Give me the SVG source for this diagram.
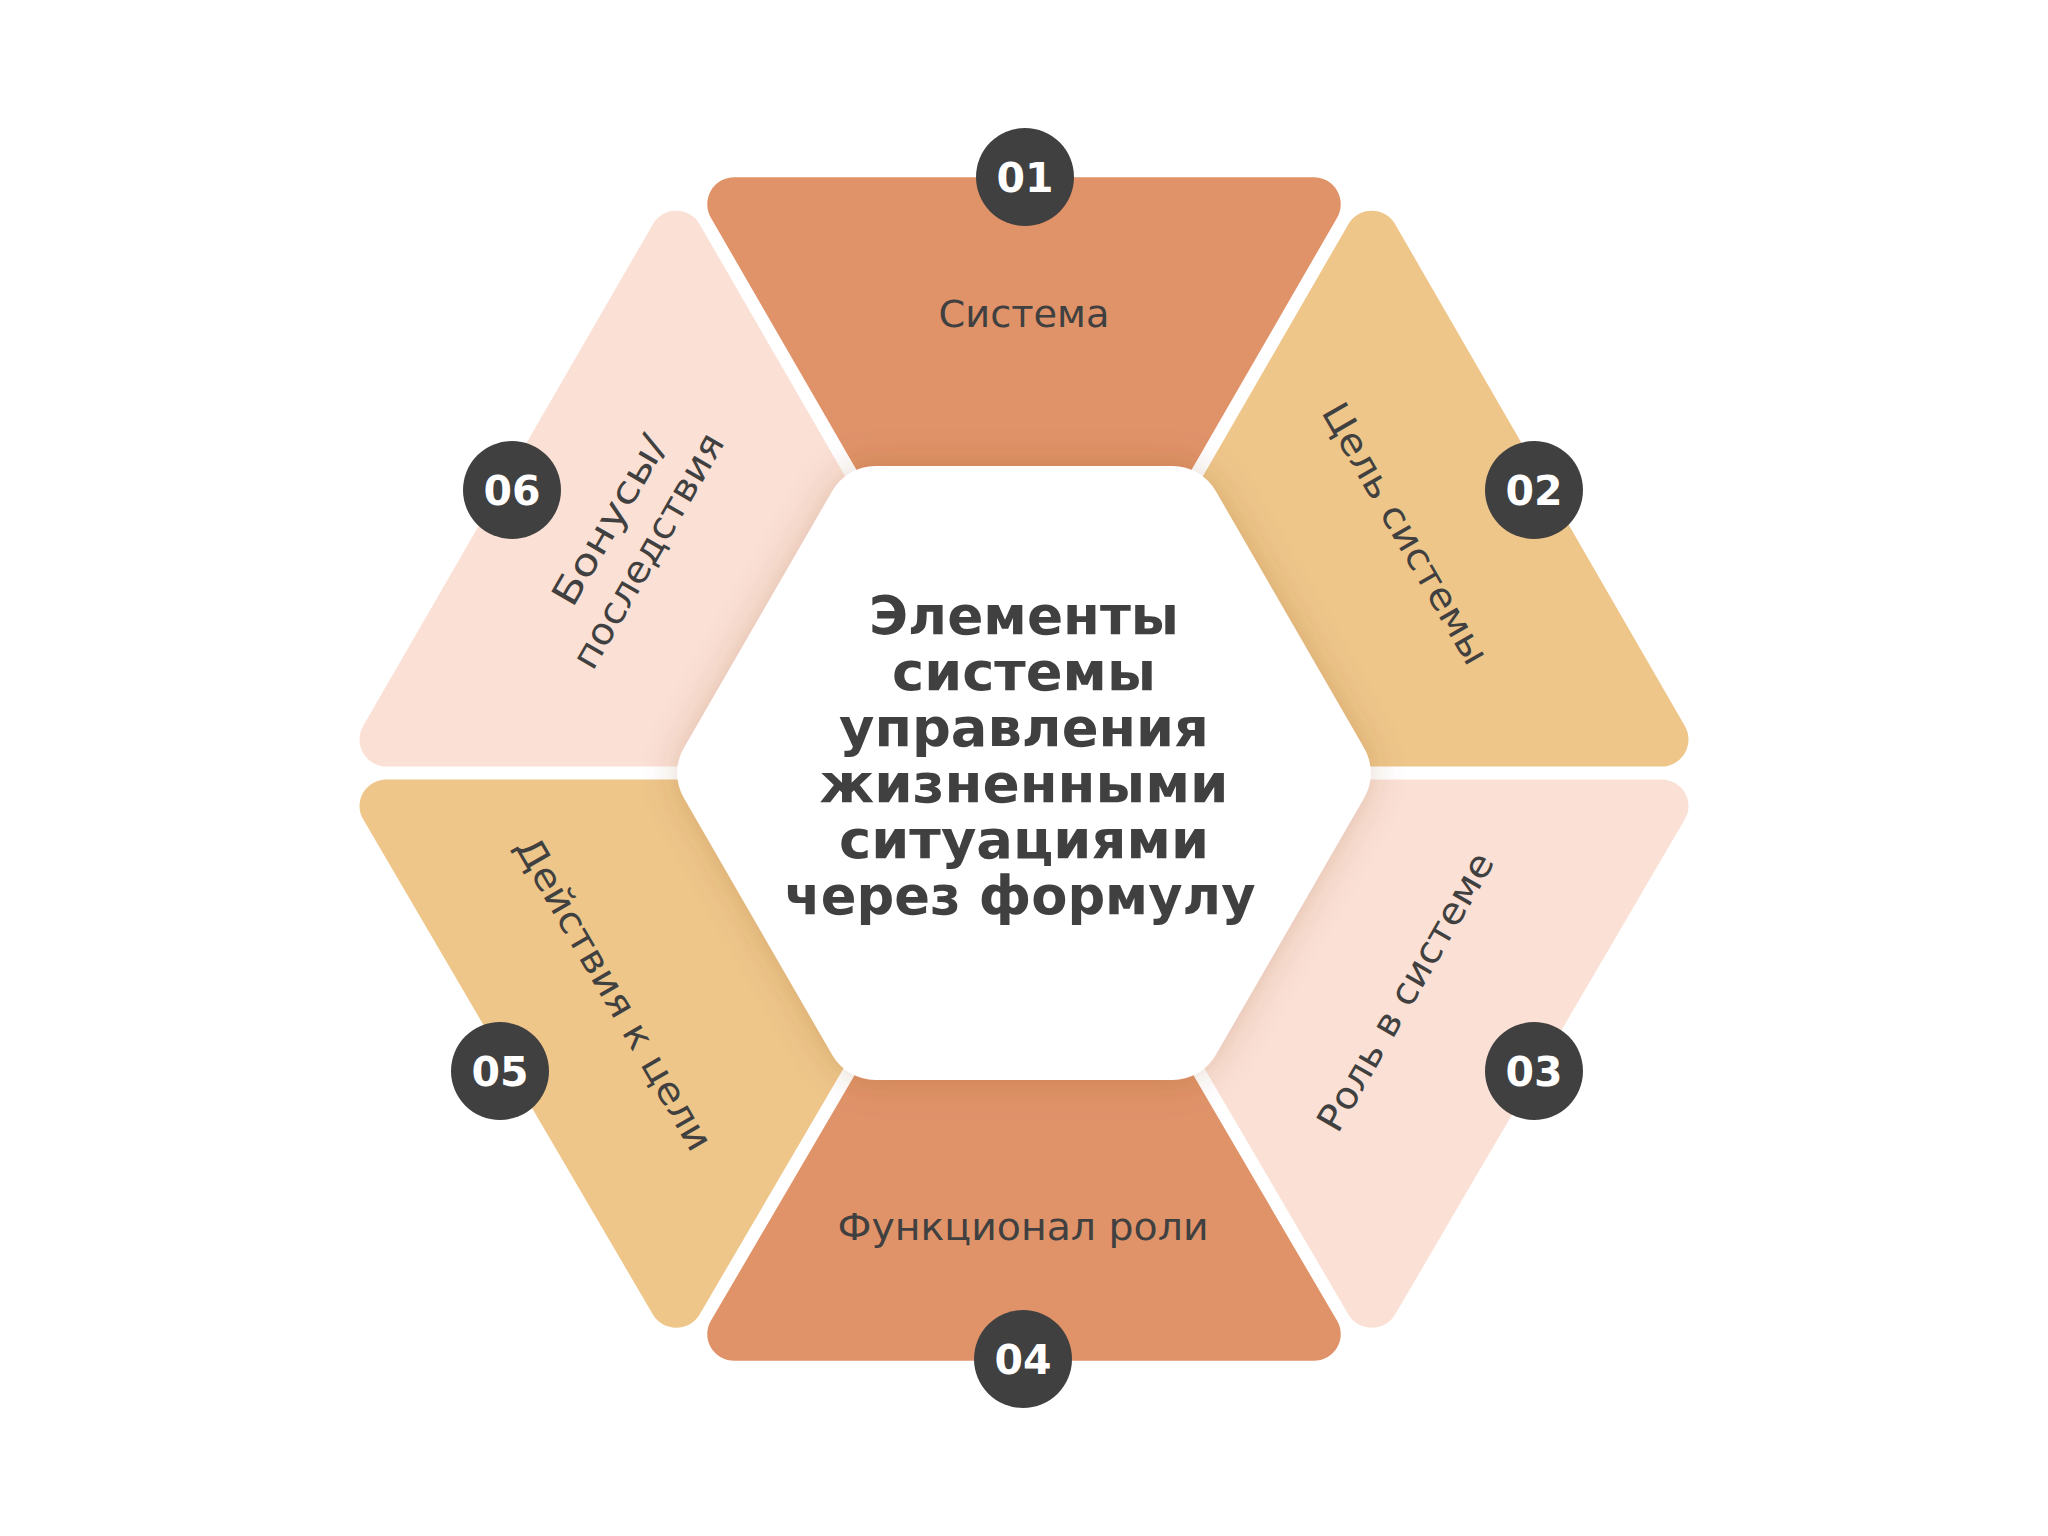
<svg xmlns="http://www.w3.org/2000/svg" width="2048" height="1536" viewBox="0 0 2048 1536">
  <defs>
    <filter id="hexShadow" x="-25%" y="-25%" width="150%" height="150%">
      <feGaussianBlur in="SourceAlpha" stdDeviation="18" result="b"/>
      <feFlood flood-color="#7a3e1e" flood-opacity="0.22"/>
      <feComposite in2="b" operator="in" result="s"/>
      <feMerge>
        <feMergeNode in="s"/>
        <feMergeNode in="SourceGraphic"/>
      </feMerge>
    </filter>
    <style>
      .terra { fill: #E09369; }
      .sand { fill: #EEC68A; }
      .pink { fill: #FBE0D5; }
      .badge { fill: #404040; }
      .num { font-family: "DejaVu Sans", "Liberation Sans", sans-serif; font-weight: bold; font-size: 41px; fill: #FFFFFF; text-anchor: middle; }
      .label { font-family: "DejaVu Sans", "Liberation Sans", sans-serif; font-size: 37px; fill: #404040; text-anchor: middle; }
      .title { font-family: "DejaVu Sans", "Liberation Sans", sans-serif; font-weight: bold; font-size: 53px; fill: #404040; text-anchor: middle; }
    </style>
  </defs>

  <rect width="2048" height="1536" fill="#FFFFFF"/>

  <g id="node-01">
    <path class="terra" d="M 734.27 177.2 L 1313.73 177.2 A 27 27 0 0 1 1337.12 217.7 L 1162.6 520 L 885.4 520 L 710.88 217.7 A 27 27 0 0 1 734.27 177.2 Z"/>
    <text class="label" x="1024" y="327" textLength="171" lengthAdjust="spacingAndGlyphs">Система</text>
    <circle class="badge" cx="1025" cy="177" r="49"/>
    <text class="num" x="1025" y="192">01</text>
  </g>

  <g id="node-02">
    <path class="sand" d="M 1395.13 224.2 L 1684.87 726.0 A 27 27 0 0 1 1661.48 766.5 L 1300 766.5 L 1177.6 520 L 1348.37 224.2 A 27 27 0 0 1 1395.13 224.2 Z"/>
    <text class="label" transform="translate(1394.5 539.8) rotate(60)" x="0" y="0" textLength="295" lengthAdjust="spacingAndGlyphs">Цель системы</text>
    <circle class="badge" cx="1534" cy="490" r="49"/>
    <text class="num" x="1534" y="505">02</text>
  </g>

  <g id="node-03">
    <path class="pink" transform="matrix(1 0 0 -0.9866 0 1535.64)" d="M 1395.13 224.2 L 1684.87 726.0 A 27 27 0 0 1 1661.48 766.5 L 1300 766.5 L 1177.6 520 L 1348.37 224.2 A 27 27 0 0 1 1395.13 224.2 Z"/>
    <text class="label" transform="translate(1416.5 998) rotate(-60)" x="0" y="0" textLength="315" lengthAdjust="spacingAndGlyphs">Роль в системе</text>
    <circle class="badge" cx="1534" cy="1071" r="49"/>
    <text class="num" x="1534" y="1086">03</text>
  </g>

  <g id="node-04">
    <path class="terra" transform="matrix(1 0 0 -0.9866 0 1535.64)" d="M 734.27 177.2 L 1313.73 177.2 A 27 27 0 0 1 1337.12 217.7 L 1162.6 520 L 885.4 520 L 710.88 217.7 A 27 27 0 0 1 734.27 177.2 Z"/>
    <text class="label" x="1023" y="1240" textLength="371" lengthAdjust="spacingAndGlyphs">Функционал роли</text>
    <circle class="badge" cx="1023" cy="1359" r="49"/>
    <text class="num" x="1023" y="1374">04</text>
  </g>

  <g id="node-05">
    <path class="sand" transform="matrix(1 0 0 -0.9866 0 1535.64)" d="M 652.87 224.2 L 363.13 726.0 A 27 27 0 0 0 386.52 766.5 L 748 766.5 L 870.4 520 L 699.63 224.2 A 27 27 0 0 0 652.87 224.2 Z"/>
    <text class="label" transform="translate(603 1000) rotate(60)" x="0" y="0" textLength="355" lengthAdjust="spacingAndGlyphs">Действия к цели</text>
    <circle class="badge" cx="500" cy="1071" r="49"/>
    <text class="num" x="500" y="1086">05</text>
  </g>

  <g id="node-06">
    <path class="pink" d="M 652.87 224.2 L 363.13 726.0 A 27 27 0 0 0 386.52 766.5 L 748 766.5 L 870.4 520 L 699.63 224.2 A 27 27 0 0 0 652.87 224.2 Z"/>
    <text class="label" transform="translate(620 526.5) rotate(-60)" x="0" y="0" textLength="190" lengthAdjust="spacingAndGlyphs">Бонусы/</text>
    <text class="label" transform="translate(659 557) rotate(-60)" x="0" y="0" textLength="265" lengthAdjust="spacingAndGlyphs">последствия</text>
    <circle class="badge" cx="512" cy="490" r="49"/>
    <text class="num" x="512" y="505">06</text>
  </g>

  <g id="center">
    <path fill="#FFFFFF" filter="url(#hexShadow)" d="M 875.62 466 L 1172.38 466 A 50 50 0 0 1 1215.68 491 L 1364.07 748 A 50 50 0 0 1 1364.07 798 L 1215.68 1055 A 50 50 0 0 1 1172.38 1080 L 875.62 1080 A 50 50 0 0 1 832.32 1055 L 683.93 798 A 50 50 0 0 1 683.93 748 L 832.32 491 A 50 50 0 0 1 875.62 466 Z"/>
    <text class="title" x="1024" y="634" textLength="310" lengthAdjust="spacingAndGlyphs">Элементы</text>
    <text class="title" x="1024" y="690" textLength="264" lengthAdjust="spacingAndGlyphs">системы</text>
    <text class="title" x="1024" y="746" textLength="370" lengthAdjust="spacingAndGlyphs">управления</text>
    <text class="title" x="1024" y="802" textLength="409" lengthAdjust="spacingAndGlyphs">жизненными</text>
    <text class="title" x="1024" y="858" textLength="370" lengthAdjust="spacingAndGlyphs">ситуациями</text>
    <text class="title" x="1020" y="914" textLength="471" lengthAdjust="spacingAndGlyphs">через формулу</text>
  </g>

  <g id="connectors"/>
</svg>
